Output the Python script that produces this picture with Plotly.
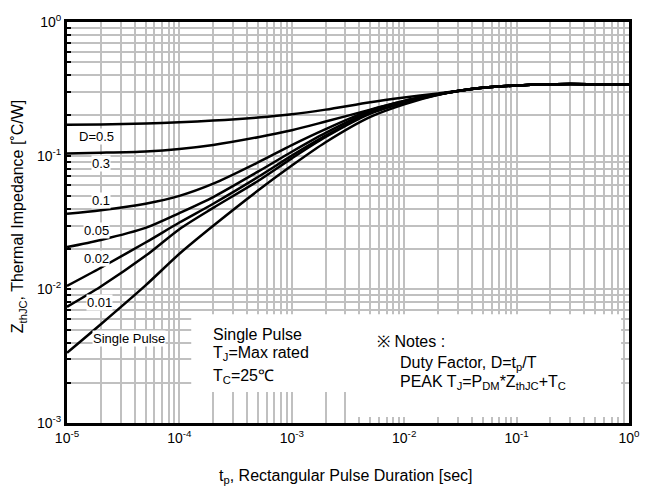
import plotly.graph_objects as go

# ---- data ----
pulse_t = [1e-5, 2e-5, 5e-5, 1e-4, 2e-4, 5e-4, 1e-3, 2e-3, 5e-3, 1e-2, 2e-2,
           3e-2, 5e-2, 1e-1, 2e-1, 3e-1, 5e-1, 1.0]

z_d05 = [0.170, 0.1714, 0.1742, 0.178, 0.183, 0.193, 0.204, 0.221, 0.251, 0.272, 0.292,
         0.305, 0.322, 0.335, 0.342, 0.344, 0.342, 0.339]
z_d03 = [0.104, 0.1052, 0.1076, 0.1122, 0.1202, 0.1374, 0.155, 0.180, 0.221, 0.257, 0.288,
         0.305, 0.322, 0.335, 0.342, 0.344, 0.342, 0.339]
z_d01 = [0.0367, 0.039, 0.0437, 0.050, 0.0617, 0.089, 0.120, 0.158, 0.219, 0.257, 0.288,
         0.305, 0.322, 0.335, 0.342, 0.344, 0.342, 0.339]
z_d005 = [0.0207, 0.0234, 0.0288, 0.0372, 0.049, 0.0759, 0.107, 0.148, 0.214, 0.254, 0.288,
          0.305, 0.322, 0.335, 0.342, 0.344, 0.342, 0.339]
z_d002 = [0.0106, 0.0145, 0.0224, 0.0316, 0.0437, 0.0692, 0.100, 0.141, 0.209, 0.251, 0.287,
          0.305, 0.322, 0.335, 0.342, 0.344, 0.342, 0.339]
z_d001 = [0.0074, 0.0105, 0.0178, 0.0282, 0.0407, 0.0646, 0.0955, 0.138, 0.2065, 0.249, 0.286,
          0.305, 0.322, 0.335, 0.342, 0.344, 0.342, 0.339]
z_single = [0.00335, 0.00548, 0.0107, 0.01845, 0.0299, 0.0548, 0.0843, 0.126, 0.195, 0.242, 0.285,
            0.305, 0.322, 0.335, 0.342, 0.344, 0.342, 0.339]

series = [z_d05, z_d03, z_d01, z_d005, z_d002, z_d001, z_single]
curve_labels = ["D=0.5", "0.3", "0.1", "0.05", "0.02", "0.01", "Single Pulse"]

x_decades = [-5, -4, -3, -2, -1, 0]
x_tick_labels = ["10<sup>-5</sup>", "10<sup>-4</sup>", "10<sup>-3</sup>",
                 "10<sup>-2</sup>", "10<sup>-1</sup>", "10<sup>0</sup>"]
y_decades = [-3, -2, -1, 0]
y_tick_labels = ["10<sup>-3</sup>", "10<sup>-2</sup>", "10<sup>-1</sup>", "10<sup>0</sup>"]

FONT = "Liberation Sans, Arial, sans-serif"
GRID = "#c0c0c0"

def log_ticks(decades, labels):
    vals, texts = [], []
    for i, d in enumerate(decades):
        if i == len(decades) - 1:
            vals.append(10.0 ** d)
            texts.append(labels[i])
            break
        for k in range(1, 10):
            vals.append(k * 10.0 ** d)
            texts.append(labels[i] if k == 1 else "")
    return vals, texts

xv, xt = log_ticks(x_decades, x_tick_labels)
yv, yt = log_ticks(y_decades, y_tick_labels)

fig = go.Figure()
for s in series:
    fig.add_trace(go.Scatter(x=pulse_t, y=s, mode="lines",
                             line=dict(color="black", width=2.5, shape="spline", smoothing=0.8),
                             showlegend=False, hoverinfo="skip"))

L, R, T, B = 67, 637, 21, 423
def fx(px):
    return (px - L) / (R - L)
def fy(py):
    return (B - py) / (B - T)

# white boxes hiding the grid behind the notes
fig.add_shape(type="rect", xref="paper", yref="paper", x0=fx(193), x1=fx(357), y0=fy(392), y1=fy(314),
              fillcolor="white", line=dict(width=0), layer="above")
fig.add_shape(type="rect", xref="paper", yref="paper", x0=fx(355), x1=fx(629), y0=fy(417), y1=fy(314),
              fillcolor="white", line=dict(width=0), layer="above")

label_pos = [(97, 136), (101, 163), (101, 200), (97, 230), (97, 258), (100, 302), (130, 338)]
for txt, (px, py) in zip(curve_labels, label_pos):
    fig.add_annotation(text=txt, xref="paper", yref="paper", x=fx(px), y=fy(py),
                       xanchor="center", yanchor="middle",
                       showarrow=False, font=dict(family=FONT, size=13, color="black"),
                       bgcolor="white", borderpad=0)

notes = [
    ("Single Pulse", 213, 334),
    ("T<sub>J</sub>=Max rated", 213, 353),
    ("T<sub>C</sub>=25℃", 213, 376),
    ("※ Notes :", 379, 341),
    ("Duty Factor, D=t<sub>p</sub>/T", 403, 363),
    ("PEAK T<sub>J</sub>=P<sub>DM</sub>*Z<sub>thJC</sub>+T<sub>C</sub>", 403, 382),
]
for txt, px, py in notes:
    fig.add_annotation(text=txt, xref="paper", yref="paper", x=fx(px), y=fy(py),
                       xanchor="left", yanchor="middle", showarrow=False,
                       font=dict(family=FONT, size=16, color="black"))

# axis titles
fig.add_annotation(text="t<sub>p</sub>, Rectangular Pulse Duration [sec]", xref="paper", yref="paper",
                   x=fx(349), y=fy(477), xanchor="center", yanchor="middle", showarrow=False,
                   font=dict(family=FONT, size=16, color="black"))
fig.add_annotation(text="Z<sub>thJC</sub>, Thermal Impedance [˚C/W]", xref="paper", yref="paper",
                   x=fx(18), y=fy(216), xanchor="center", yanchor="middle", showarrow=False,
                   textangle=-90, font=dict(family=FONT, size=16, color="black"))

axis_common = dict(type="log", showgrid=True, gridcolor=GRID, gridwidth=2,
                   showline=True, linecolor="black", linewidth=3, mirror=True,
                   zeroline=False, tickmode="array",
                   tickfont=dict(family=FONT, size=14, color="black"))

fig.update_xaxes(range=[-5, 0], tickvals=xv, ticktext=xt, ticks="", **axis_common)
fig.update_yaxes(range=[-3, 0], tickvals=yv, ticktext=yt, ticks="inside", ticklen=4,
                 tickwidth=1.5, tickcolor="black", **axis_common)

fig.update_layout(width=652, height=490, margin=dict(l=L, r=652 - R, t=T, b=490 - B),
                  paper_bgcolor="white", plot_bgcolor="white",
                  font=dict(family=FONT, size=13, color="black"))

fig.write_html("out.html")
